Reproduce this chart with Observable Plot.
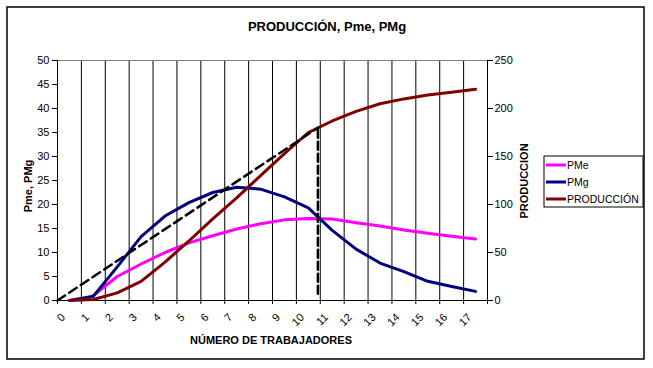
<!DOCTYPE html>
<html>
<head>
<meta charset="utf-8">
<script src="https://cdn.jsdelivr.net/npm/d3@7"></script>
<script src="https://cdn.jsdelivr.net/npm/@observablehq/plot@0.6"></script>
<style>
  body { margin: 0; background: #fff; }
  #chart svg { display: block; }
</style>
</head>
<body>
<div id="chart"></div>
<script>
// ---- Data ----
const workers = [0, 1, 2, 3, 4, 5, 6, 7, 8, 9, 10, 11, 12, 13, 14, 15, 16, 17];
const pmeValues = [null, 1.0, 5.0, 7.6, 10.0, 12.0, 13.5, 14.9, 16.0, 16.8, 17.1, 17.0, 16.2, 15.5, 14.7, 14.0, 13.4, 12.8];
const pmgValues = [0, 0.9, 7.0, 13.3, 17.6, 20.4, 22.5, 23.6, 23.2, 21.6, 19.3, 14.6, 10.7, 7.8, 6.0, 4.0, 2.9, 1.9];
const produccionValues = [0, 1, 8, 20, 40, 62, 85, 107, 130, 153, 175, 187, 197, 205, 210, 214, 217, 220];
const leftTicks = [0, 5, 10, 15, 20, 25, 30, 35, 40, 45, 50];
const rightTicks = [0, 50, 100, 150, 200, 250];
const tangentX = [-0.5, 10.4];
const tangentP = [0, 180];
const verticalX = [10.4, 10.4];
const verticalP = [7, 180];
const seriesNames = ["PMe", "PMg", "PRODUCCIÓN"];
const seriesColors = ["#ff00ff", "#000080", "#800000"];
const titleText = "PRODUCCIÓN, Pme, PMg";
const xTitle = "NÚMERO DE TRABAJADORES";
const yLeftTitle = "Pme, PMg";
const yRightTitle = "PRODUCCION";

// ---- Derived tables ----
const ratio = 250 / 50; // secondary axis scale factor
const rows = workers.map((w, i) => ({L: w, pme: pmeValues[i], pmg: pmgValues[i], prod: produccionValues[i]}));
const tangent = tangentX.map((x, i) => ({x, p: tangentP[i]}));
const vertical = verticalX.map((x, i) => ({x, p: verticalP[i]}));
const boundaries = workers.map(d => d - 0.5).concat([workers[workers.length - 1] + 0.5]);
const gridX = boundaries.slice(1, -1);

const font = "'Liberation Sans', Arial, sans-serif";

const plot = Plot.plot({
  width: 653,
  height: 368,
  marginLeft: 57,
  marginRight: 166,
  marginTop: 60,
  marginBottom: 68,
  style: {background: "white", fontFamily: font, fontSize: "11px", color: "black", overflow: "visible"},
  x: {domain: [boundaries[0], boundaries[boundaries.length - 1]], axis: null},
  y: {domain: [0, 50], axis: null},
  marks: [
    Plot.ruleX(gridX, {y1: 0, y2: 50, stroke: "black", strokeWidth: 1}),
    Plot.ruleY([50], {x1: boundaries[0], x2: boundaries[boundaries.length - 1], stroke: "#808080"}),
    Plot.ruleX([boundaries[0], boundaries[boundaries.length - 1]], {y1: 0, y2: 50, stroke: "black"}),
    Plot.ruleY([0], {x1: boundaries[0], x2: boundaries[boundaries.length - 1], stroke: "black"}),
    Plot.axisY({anchor: "left", ticks: leftTicks, tickSize: 5, tickPadding: 3, label: null, fontSize: 11}),
    Plot.axisY({anchor: "right", ticks: rightTicks.map(v => v / ratio), tickFormat: d => String(Math.round(d * ratio)), tickSize: 5, tickPadding: 2, label: null, fontSize: 11}),
    Plot.axisX({anchor: "bottom", ticks: boundaries, tickSize: 4, tickFormat: () => "", label: null}),
    Plot.text(workers, {x: d => d, y: 0, text: d => String(d), rotate: -45, textAnchor: "end", dx: -6, dy: 15, fontSize: 11}),
    Plot.line(rows, {x: "L", y: "pme", stroke: seriesColors[0], strokeWidth: 3}),
    Plot.line(rows, {x: "L", y: "pmg", stroke: seriesColors[1], strokeWidth: 3}),
    Plot.line(rows, {x: "L", y: d => d.prod / ratio, stroke: seriesColors[2], strokeWidth: 3}),
    Plot.line(tangent, {x: "x", y: d => d.p / ratio, stroke: "black", strokeWidth: 2.5, strokeDasharray: "9,5"}),
    Plot.line(vertical, {x: "x", y: d => d.p / ratio, stroke: "black", strokeWidth: 2.5, strokeDasharray: "8,4"})
  ]
});

document.getElementById("chart").appendChild(plot);

// ---- Decorations: border, titles, legend ----
const svg = d3.select(plot);
svg.append("rect")
  .attr("x", 7).attr("y", 7).attr("width", 637).attr("height", 352)
  .attr("fill", "none").attr("stroke", "black").attr("stroke-width", 1.5);

svg.append("text").text(titleText)
  .attr("x", 327).attr("y", 31).attr("text-anchor", "middle")
  .attr("font-family", font).attr("font-weight", "bold").attr("font-size", 13);

svg.append("text").text(xTitle)
  .attr("x", 271).attr("y", 344).attr("text-anchor", "middle")
  .attr("font-family", font).attr("font-weight", "bold").attr("font-size", 11);

svg.append("text").text(yLeftTitle)
  .attr("transform", "translate(31.5,186) rotate(-90)").attr("text-anchor", "middle")
  .attr("font-family", font).attr("font-weight", "bold").attr("font-size", 11);

svg.append("text").text(yRightTitle)
  .attr("transform", "translate(527.5,181) rotate(-90)").attr("text-anchor", "middle")
  .attr("font-family", font).attr("font-weight", "bold").attr("font-size", 11);

const legend = svg.append("g").attr("text-anchor", "start");
legend.append("rect")
  .attr("x", 544).attr("y", 156).attr("width", 99).attr("height", 51)
  .attr("fill", "white").attr("stroke", "black").attr("stroke-width", 1);
seriesNames.forEach((name, i) => {
  const y = 165 + i * 17;
  legend.append("line").attr("x1", 546).attr("x2", 566).attr("y1", y).attr("y2", y)
    .attr("stroke", seriesColors[i]).attr("stroke-width", 3);
  legend.append("text").text(name).attr("x", 567).attr("y", y + 4)
    .attr("text-anchor", "start")
    .attr("font-family", font).attr("font-size", 10.5);
});
</script>
</body>
</html>
